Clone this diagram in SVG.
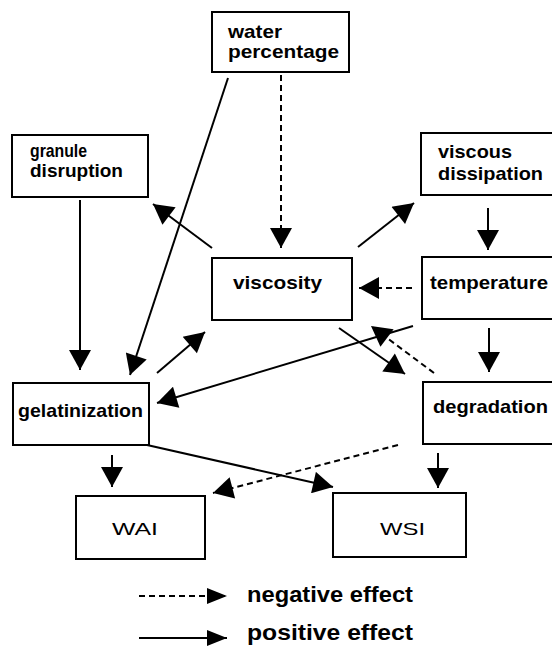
<svg xmlns="http://www.w3.org/2000/svg" width="552" height="646" viewBox="0 0 552 646">
<defs>
<style>
.box{fill:#fff;stroke:#000;stroke-width:2}
.t{font-family:"Liberation Sans",Arial,sans-serif;font-weight:bold;font-size:19px;fill:#000}
.tn{font-family:"Liberation Sans",Arial,sans-serif;font-size:17px;fill:#000}
.lg{font-family:"Liberation Sans",Arial,sans-serif;font-weight:bold;font-size:22px;fill:#000}
.c{fill:none;stroke:#000;stroke-width:2}
.d{stroke-dasharray:6 4}
</style>
<marker id="ah" markerUnits="userSpaceOnUse" markerWidth="22" markerHeight="22" viewBox="0 0 20 22" refX="20" refY="11" orient="auto">
<path d="M0,0 L20,11 L0,22 z" fill="#000"/>
</marker>
<marker id="lh" markerUnits="userSpaceOnUse" markerWidth="20" markerHeight="16" viewBox="0 0 20 16" refX="20" refY="8" orient="auto">
<path d="M0,0 L20,8 L0,16 z" fill="#000"/>
</marker>
</defs>
<rect width="552" height="646" fill="#fff"/>
<g id="connectors">
<line class="c d" x1="281" y1="75" x2="281" y2="248" marker-end="url(#ah)"/>
<line class="c" x1="228" y1="78" x2="130" y2="375" marker-end="url(#ah)"/>
<line class="c" x1="80" y1="200" x2="80" y2="370" marker-end="url(#ah)"/>
<line class="c" x1="212" y1="248" x2="153" y2="204" marker-end="url(#ah)"/>
<line class="c" x1="358" y1="247" x2="414" y2="203" marker-end="url(#ah)"/>
<line class="c" x1="488" y1="208" x2="488" y2="250" marker-end="url(#ah)"/>
<line class="c d" x1="412" y1="288" x2="359" y2="288" marker-end="url(#ah)"/>
<line class="c" x1="489" y1="328" x2="489" y2="372" marker-end="url(#ah)"/>
<line class="c" x1="413" y1="326" x2="157" y2="403" marker-end="url(#ah)"/>
<line class="c" x1="157" y1="373" x2="205" y2="332" marker-end="url(#ah)"/>
<line class="c" x1="339" y1="328" x2="405" y2="374" marker-end="url(#ah)"/>
<line class="c d" x1="434" y1="373" x2="371" y2="326" marker-end="url(#ah)"/>
<line class="c" x1="112" y1="455" x2="112" y2="487" marker-end="url(#ah)"/>
<line class="c" x1="147" y1="445" x2="333" y2="487" marker-end="url(#ah)"/>
<line class="c d" x1="398" y1="445" x2="213" y2="493" marker-end="url(#ah)"/>
<line class="c" x1="438" y1="453" x2="438" y2="488" marker-end="url(#ah)"/>
</g>
<g id="water">
<rect class="box" x="212" y="12" width="137" height="60"/>
<text class="t" x="228" y="38" textLength="54" lengthAdjust="spacingAndGlyphs">water</text>
<text class="t" x="228" y="58" textLength="111" lengthAdjust="spacingAndGlyphs">percentage</text>
</g>
<g id="granule">
<rect class="box" x="12" y="135" width="136" height="62"/>
<text class="t" x="30" y="157" font-size="18" textLength="57" lengthAdjust="spacingAndGlyphs">granule</text>
<text class="t" x="30" y="177" font-size="18" textLength="93" lengthAdjust="spacingAndGlyphs">disruption</text>
</g>
<g id="viscous">
<rect class="box" x="421" y="133" width="140" height="62"/>
<text class="t" x="438" y="158" textLength="74" lengthAdjust="spacingAndGlyphs">viscous</text>
<text class="t" x="438" y="180" textLength="105" lengthAdjust="spacingAndGlyphs">dissipation</text>
</g>
<g id="viscosity">
<rect class="box" x="212" y="258" width="140" height="62"/>
<text class="t" x="233" y="289" textLength="89" lengthAdjust="spacingAndGlyphs">viscosity</text>
</g>
<g id="temperature">
<rect class="box" x="422" y="257" width="140" height="62"/>
<text class="t" x="430" y="289" textLength="118" lengthAdjust="spacingAndGlyphs">temperature</text>
</g>
<g id="gelatinization">
<rect class="box" x="13" y="383" width="136" height="62"/>
<text class="t" x="18" y="417" textLength="125" lengthAdjust="spacingAndGlyphs">gelatinization</text>
</g>
<g id="degradation">
<rect class="box" x="423" y="382" width="140" height="62"/>
<text class="t" x="433" y="413" textLength="115" lengthAdjust="spacingAndGlyphs">degradation</text>
</g>
<g id="WAI">
<rect class="box" x="76" y="496" width="129" height="63"/>
<text class="tn" x="112" y="535" textLength="46" lengthAdjust="spacingAndGlyphs">WAI</text>
</g>
<g id="WSI">
<rect class="box" x="333" y="493" width="133" height="64"/>
<text class="tn" x="380" y="535" textLength="45" lengthAdjust="spacingAndGlyphs">WSI</text>
</g>
<g id="legend">
<line class="c d" x1="139" y1="596" x2="227" y2="596" stroke-width="1.5" marker-end="url(#lh)"/>
<text class="lg" x="247" y="602" textLength="166" lengthAdjust="spacingAndGlyphs">negative effect</text>
<line class="c" x1="139" y1="638" x2="227" y2="638" marker-end="url(#lh)"/>
<text class="lg" x="247" y="640" font-size="21" textLength="166" lengthAdjust="spacingAndGlyphs">positive effect</text>
</g>
</svg>
